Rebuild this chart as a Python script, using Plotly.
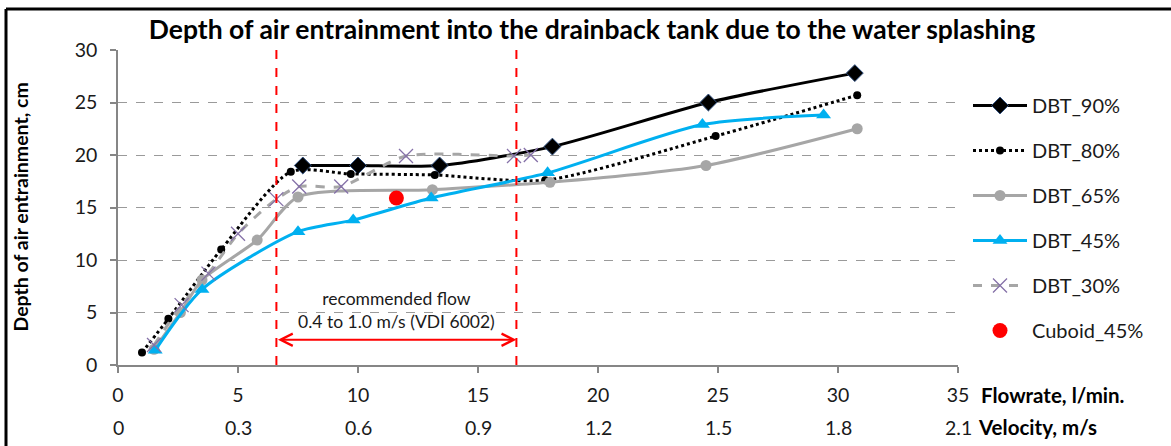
import plotly.graph_objects as go

# ---- data ----
dbt90_x = [7.7, 10.0, 13.4, 18.1, 24.6, 30.7]
dbt90_y = [19.0, 19.0, 19.0, 20.8, 25.0, 27.8]

dbt80_x = [1.0, 2.1, 4.3, 7.2, 9.7, 13.2, 17.8, 24.9, 30.8]
dbt80_y = [1.2, 4.4, 11.0, 18.4, 18.2, 18.1, 17.6, 21.8, 25.7]

dbt65_x = [1.5, 2.6, 3.5, 5.8, 7.5, 13.1, 18.0, 24.5, 30.8]
dbt65_y = [1.5, 5.0, 8.1, 11.9, 16.0, 16.7, 17.4, 19.0, 22.5]

dbt45_x = [1.55, 3.5, 7.5, 9.8, 13.05, 17.9, 24.35, 29.4]
dbt45_y = [1.4, 7.2, 12.7, 13.8, 15.9, 18.3, 22.9, 23.8]

dbt30_x = [1.5, 2.65, 3.77, 5.0, 6.6, 7.55, 9.3, 12.0, 16.5, 17.2]
dbt30_y = [1.9, 5.7, 8.7, 12.5, 15.8, 17.0, 17.0, 19.9, 19.9, 20.0]

cuboid_x = [11.6]
cuboid_y = [15.9]

flow_ticks = [0, 5, 10, 15, 20, 25, 30, 35]
velocity_labels = ["0", "0.3", "0.6", "0.9", "1.2", "1.5", "1.8", "2.1"]
y_ticks = [0, 5, 10, 15, 20, 25, 30]

recommended_x = [6.6, 16.6]
arrow_y = 2.4

FONT = "Lato"
TXT = "#1a1a1a"

fig = go.Figure()

def add(name, x, y, color, width, dash, symbol, msize, mcolor, mline=None):
    fig.add_trace(go.Scatter(
        x=x, y=y, name=name, mode="lines+markers",
        line=dict(color=color, width=width, dash=dash, shape="spline", smoothing=0.7),
        marker=dict(symbol=symbol, size=msize, color=mcolor,
                    line=mline if mline else dict(width=0)),
        legendgroup=name,
    ))

add("DBT_90%", dbt90_x, dbt90_y, "#000000", 3, "solid", "diamond", 13, "#000000",
    dict(width=1, color="#2F4F7F"))
add("DBT_80%", dbt80_x, dbt80_y, "#000000", 3, "dot", "circle", 8, "#000000")
add("DBT_65%", dbt65_x, dbt65_y, "#A6A6A6", 3, "solid", "circle", 11, "#A6A6A6")
add("DBT_45%", dbt45_x, dbt45_y, "#00B0F0", 3, "solid", "triangle-up", 13, "#00B0F0")
add("DBT_30%", dbt30_x, dbt30_y, "#A6A6A6", 3, "dash", "x-thin", 14, "#8571A8",
    dict(width=1.3, color="#8571A8"))

fig.add_trace(go.Scatter(
    x=cuboid_x, y=cuboid_y, name="Cuboid_45%", mode="markers",
    marker=dict(symbol="circle", size=15, color="#FF0000"),
    legendgroup="Cuboid_45%",
))

# recommended flow range
for xv in recommended_x:
    fig.add_shape(type="line", xref="x", yref="y", x0=xv, x1=xv, y0=0, y1=30,
                  line=dict(color="#FF0000", width=2, dash="dash"))

fig.add_annotation(x=recommended_x[1], y=arrow_y, ax=recommended_x[0], ay=arrow_y,
                   xref="x", yref="y", axref="x", ayref="y", text="",
                   showarrow=True, arrowhead=5, startarrowhead=5, arrowside="end+start",
                   arrowwidth=2, arrowcolor="#FF0000", arrowsize=1.2, startarrowsize=1.2)
fig.add_annotation(x=(recommended_x[0] + recommended_x[1]) / 2, y=5.2, xref="x", yref="y",
                   text="recommended flow<br>0.4 to 1.0 m/s (VDI 6002)", showarrow=False,
                   font=dict(family=FONT, size=17.5, color=TXT), align="center")

# velocity tick labels (second row)
for xv, lab in zip(flow_ticks, velocity_labels):
    fig.add_annotation(x=xv, y=(365 - 427) / 315, xref="x", yref="paper", text=lab,
                       showarrow=False, font=dict(family=FONT, size=19.5, color=TXT),
                       xanchor="center", yanchor="middle")

fig.add_annotation(x=(979 - 118) / 840, y=(365 - 395) / 315, xref="paper", yref="paper",
                   text="<b>Flowrate, l/min.</b>", showarrow=False, xanchor="left",
                   yanchor="middle", font=dict(family=FONT, size=20.5, color="#000"))
fig.add_annotation(x=(976 - 118) / 840, y=(365 - 427) / 315, xref="paper", yref="paper",
                   text="<b>Velocity, m/s</b>", showarrow=False, xanchor="left",
                   yanchor="middle", font=dict(family=FONT, size=20.5, color="#000"))
fig.add_annotation(x=(20 - 118) / 840, y=0.5, xref="paper", yref="paper",
                   text="<b>Depth of air entrainment, cm</b>", showarrow=False,
                   textangle=-90, xanchor="center", yanchor="middle",
                   font=dict(family=FONT, size=19.5, color="#000"))

# outer frame (left and top edges)
fig.add_shape(type="line", xref="paper", yref="paper", x0=(6 - 118) / 840, x1=(6 - 118) / 840,
              y0=(365 - 9) / 315, y1=(365 - 460) / 315, line=dict(color="#000", width=3))
fig.add_shape(type="line", xref="paper", yref="paper", x0=(6 - 118) / 840, x1=(1200 - 118) / 840,
              y0=(365 - 9) / 315, y1=(365 - 9) / 315, line=dict(color="#000", width=3))

fig.update_layout(
    width=1171, height=446,
    margin=dict(l=118, r=213, t=50, b=81),
    paper_bgcolor="white", plot_bgcolor="white",
    font=dict(family=FONT, color=TXT),
    title=dict(text="<b>Depth of air entrainment into the drainback tank due to the water splashing</b>",
               x=592 / 1171, xanchor="center", y=1 - 30 / 446, yanchor="middle",
               font=dict(family=FONT, size=26.5, color="#000")),
    showlegend=True,
    legend=dict(x=(968 - 118) / 840, xanchor="left", y=(365 - 86) / 315, yanchor="top",
                font=dict(family=FONT, size=20, color=TXT),
                tracegroupgap=16, itemwidth=54, traceorder="grouped",
                bgcolor="rgba(0,0,0,0)"),
    xaxis=dict(range=[0, 35], tickvals=flow_ticks, ticktext=[str(v) for v in flow_ticks],
               showgrid=False, zeroline=False, showline=True, linecolor="#868686", linewidth=1.5,
               ticks="outside", ticklen=6, tickcolor="#868686", tickwidth=1.5,
               tickfont=dict(family=FONT, size=19.5, color=TXT), ticklabelstandoff=6),
    yaxis=dict(range=[0, 30], tickvals=y_ticks, showgrid=True, gridcolor="#9a9a9a",
               griddash="dash", gridwidth=1, zeroline=False, showline=True,
               linecolor="#868686", linewidth=1.5, ticks="outside", ticklen=6,
               tickcolor="#868686", tickwidth=1.5,
               tickfont=dict(family=FONT, size=19.5, color=TXT), ticklabelstandoff=9),
)

fig.write_html("out.html", post_script="document.body.style.margin='0px';",
               config={"displayModeBar": False})
